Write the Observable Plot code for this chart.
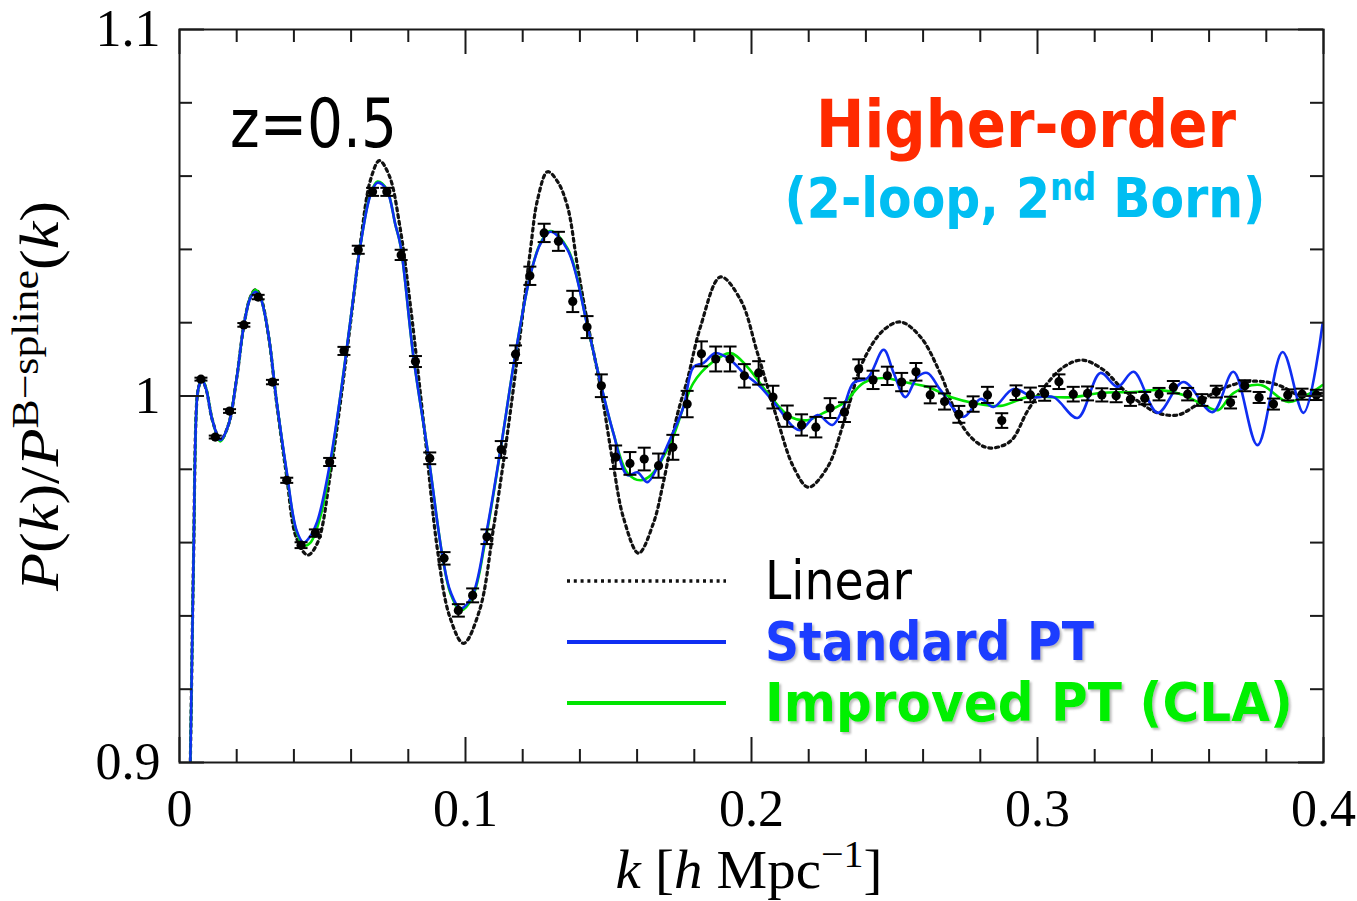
<!DOCTYPE html>
<html>
<head>
<meta charset="utf-8">
<script src="https://cdn.jsdelivr.net/npm/d3@7"></script>
<script src="https://cdn.jsdelivr.net/npm/@observablehq/plot@0.6"></script>
<style>
  html, body { margin: 0; padding: 0; background: #fff; }
  #chart svg { display: block; }
</style>
</head>
<body>
<div id="chart"></div>
<script>
// N-body measurements: P(k)/P_B-spline(k) at z = 0.5, with 1-sigma errors
const kData = [0.0075,0.0125,0.0175,0.0225,0.0275,0.0325,0.0375,0.0425,0.0475,0.0525,
  0.0575,0.0625,0.0675,0.0725,0.0775,0.0825,0.0875,0.0925,0.0975,0.1025,
  0.1075,0.1125,0.1175,0.1225,0.1275,0.1325,0.1375,0.1425,0.1475,0.1525,
  0.1575,0.1625,0.1675,0.1725,0.1775,0.1825,0.1875,0.1925,0.1975,0.2025,
  0.2075,0.2125,0.2175,0.2225,0.2275,0.2325,0.2375,0.2425,0.2475,0.2525,
  0.2575,0.2625,0.2675,0.2725,0.2775,0.2825,0.2875,0.2925,0.2975,0.3025,
  0.3075,0.3125,0.3175,0.3225,0.3275,0.3325,0.3375,0.3425,0.3475,0.3525,
  0.3575,0.3625,0.3675,0.3725,0.3775,0.3825,0.3875,0.3925,0.3975];
const pData = [1.0046,0.9888,0.9959,1.0194,1.0270,1.0038,0.9770,0.9593,0.9626,0.9820,
  1.0123,1.0399,1.0557,1.0557,1.0385,1.0094,0.9830,0.9557,0.9415,0.9456,
  0.9616,0.9854,1.0114,1.0328,1.0445,1.0422,1.0258,1.0188,1.0028,0.9833,
  0.9816,0.9828,0.9810,0.9860,0.9978,1.0115,1.0101,1.0101,1.0055,1.0063,
  0.9997,0.9945,0.9921,0.9915,0.9967,0.9956,1.0074,1.0044,1.0055,1.0038,
  1.0066,1.0003,0.9985,0.9950,0.9978,1.0003,0.9933,1.0009,1.0003,1.0007,
  1.0039,1.0005,1.0007,1.0003,1.0001,0.9991,0.9994,1.0005,1.0024,1.0005,
  0.9989,1.0012,0.9982,1.0028,0.9996,0.9978,1.0003,1.0005,1.0003];
const pErr = [0.0004,0.0004,0.0005,0.0005,0.0006,0.0006,0.0007,0.0008,0.0010,0.0011,
  0.0011,0.0011,0.0011,0.0011,0.0014,0.0015,0.0016,0.0017,0.0017,0.0019,
  0.0020,0.0023,0.0024,0.0025,0.0025,0.0026,0.0029,0.0030,0.0031,0.0032,
  0.0031,0.0031,0.0033,0.0034,0.0036,0.0034,0.0034,0.0034,0.0032,0.0032,
  0.0031,0.0029,0.0029,0.0028,0.0027,0.0027,0.0026,0.0025,0.0025,0.0025,
  0.0024,0.0023,0.0022,0.0023,0.0021,0.0022,0.0020,0.0020,0.0020,0.0020,
  0.0020,0.0020,0.0019,0.0018,0.0018,0.0018,0.0017,0.0017,0.0017,0.0017,
  0.0016,0.0016,0.0016,0.0015,0.0015,0.0015,0.0015,0.0015,0.0014];

// Linear theory
const kLinear = [0.0038,0.0042,0.0049,0.0062,0.0070,0.0079,0.0094,0.0115,0.0143,0.0171,
  0.0199,0.0227,0.0248,0.0266,0.0283,0.0311,0.0339,0.0374,0.0409,0.0448,
  0.0483,0.0528,0.0563,0.0598,0.0633,0.0668,0.0699,0.0734,0.0769,0.0808,
  0.0858,0.0902,0.0944,0.0993,0.1049,0.1098,0.1147,0.1192,0.1227,0.1252,
  0.1287,0.1322,0.1357,0.1392,0.1427,0.1472,0.1518,0.1552,0.1605,0.1657,
  0.1692,0.1741,0.1776,0.1822,0.1892,0.1962,0.2021,0.2091,0.2147,0.2199,
  0.2266,0.2322,0.2392,0.2462,0.2521,0.2591,0.2661,0.2731,0.2790,0.2836,
  0.2906,0.2965,0.3021,0.3091,0.3157,0.3231,0.3290,0.3360,0.3420,0.3490,
  0.3545,0.3615,0.3720,0.3801,0.3857,0.3913,0.3997];
const pLinear = [0.9005,0.9205,0.9552,1.0000,1.0032,1.0044,1.0016,0.9934,0.9880,0.9921,
  1.0044,1.0202,1.0270,1.0290,1.0272,1.0165,0.9985,0.9785,0.9612,0.9566,
  0.9600,0.9790,0.9985,1.0200,1.0420,1.0590,1.0642,1.0600,1.0470,1.0243,
  0.9895,0.9580,0.9400,0.9325,0.9415,0.9640,0.9900,1.0172,1.0399,1.0536,
  1.0612,1.0585,1.0516,1.0352,1.0199,1.0025,0.9806,0.9669,0.9571,0.9653,
  0.9765,0.9950,1.0045,1.0190,1.0325,1.0262,1.0117,0.9934,0.9806,0.9751,
  0.9806,0.9926,1.0098,1.0180,1.0202,1.0161,1.0060,0.9926,0.9872,0.9858,
  0.9877,0.9959,1.0022,1.0079,1.0098,1.0071,1.0025,0.9981,0.9954,0.9948,
  0.9970,1.0008,1.0038,1.0038,1.0025,1.0003,1.0008];

// Standard PT (2-loop)
const kSPT = [0.0038,0.0042,0.0049,0.0062,0.0070,0.0079,0.0094,0.0115,0.0143,0.0171,
  0.0199,0.0227,0.0248,0.0266,0.0283,0.0311,0.0339,0.0374,0.0409,0.0434,
  0.0458,0.0479,0.0493,0.0528,0.0563,0.0598,0.0633,0.0668,0.0692,0.0724,
  0.0755,0.0773,0.0818,0.0871,0.0920,0.0948,0.0983,0.1024,0.1070,0.1122,
  0.1175,0.1227,0.1262,0.1297,0.1357,0.1427,0.1472,0.1517,0.1566,0.1601,
  0.1636,0.1671,0.1717,0.1762,0.1797,0.1832,0.1874,0.1927,0.1972,0.2031,
  0.2091,0.2147,0.2171,0.2231,0.2283,0.2322,0.2357,0.2406,0.2462,0.2497,
  0.2538,0.2580,0.2615,0.2661,0.2741,0.2801,0.2846,0.2916,0.2986,0.3056,
  0.3140,0.3220,0.3280,0.3336,0.3420,0.3510,0.3612,0.3685,0.3769,0.3857,
  0.3930,0.3997];
const pSPT = [0.9005,0.9205,0.9552,1.0000,1.0032,1.0044,1.0016,0.9934,0.9880,0.9921,
  1.0044,1.0202,1.0268,1.0284,1.0268,1.0167,0.9989,0.9798,0.9634,0.9600,
  0.9618,0.9652,0.9689,0.9825,1.0003,1.0208,1.0413,1.0549,1.0582,1.0563,
  1.0467,1.0410,1.0107,0.9833,0.9560,0.9465,0.9420,0.9456,0.9615,0.9852,
  1.0117,1.0331,1.0415,1.0448,1.0399,1.0189,1.0036,0.9899,0.9784,0.9792,
  0.9765,0.9806,0.9885,0.9970,1.0079,1.0090,1.0117,1.0098,1.0063,1.0025,
  0.9970,0.9915,0.9907,0.9948,0.9921,0.9970,1.0036,1.0049,1.0126,1.0063,
  0.9997,1.0052,1.0063,1.0016,0.9943,0.9992,0.9970,1.0019,0.9997,0.9997,
  0.9940,1.0063,1.0025,1.0066,0.9954,1.0038,0.9956,1.0066,0.9866,1.0120,
  0.9954,1.0199];

// Improved PT (closure / CLA)
const kCLA = [0.0038,0.0042,0.0049,0.0062,0.0070,0.0079,0.0094,0.0115,0.0143,0.0171,
  0.0199,0.0227,0.0248,0.0266,0.0283,0.0311,0.0339,0.0374,0.0409,0.0434,
  0.0458,0.0493,0.0528,0.0563,0.0598,0.0633,0.0668,0.0692,0.0724,0.0755,
  0.0773,0.0818,0.0871,0.0920,0.0948,0.0983,0.1024,0.1070,0.1122,0.1175,
  0.1227,0.1262,0.1297,0.1357,0.1427,0.1472,0.1517,0.1566,0.1612,0.1650,
  0.1717,0.1797,0.1860,0.1927,0.1986,0.2056,0.2136,0.2196,0.2252,0.2322,
  0.2392,0.2462,0.2531,0.2615,0.2696,0.2776,0.2871,0.2965,0.3045,0.3126,
  0.3220,0.3336,0.3430,0.3510,0.3594,0.3633,0.3685,0.3780,0.3877,0.3997];
const pCLA = [0.9005,0.9205,0.9552,1.0000,1.0032,1.0046,1.0018,0.9934,0.9876,0.9921,
  1.0044,1.0202,1.0270,1.0290,1.0270,1.0167,0.9989,0.9795,0.9630,0.9592,
  0.9600,0.9672,0.9815,1.0003,1.0208,1.0413,1.0552,1.0585,1.0565,1.0467,
  1.0410,1.0107,0.9833,0.9560,0.9460,0.9415,0.9450,0.9608,0.9850,1.0117,
  1.0331,1.0417,1.0450,1.0402,1.0189,1.0036,0.9899,0.9790,0.9770,0.9785,
  0.9872,1.0036,1.0090,1.0117,1.0079,1.0008,0.9943,0.9934,0.9954,0.9981,
  1.0036,1.0049,1.0038,1.0025,0.9997,0.9981,0.9973,0.9997,0.9997,0.9997,
  1.0008,1.0011,1.0016,1.0003,0.9970,0.9962,1.0008,1.0030,0.9984,1.0030];

// Axis ticks and their labels
const xMajorTicks = [0, 0.1, 0.2, 0.3, 0.4];
const xTickLabels = ["0", "0.1", "0.2", "0.3", "0.4"];
const xMinorTicks = [0.02,0.04,0.06,0.08,0.12,0.14,0.16,0.18,0.22,0.24,0.26,0.28,0.32,0.34,0.36,0.38];
const yMajorTicks = [0.9, 1.0, 1.1];
const yTickLabels = ["0.9", "1", "1.1"];
const yMinorTicks = [0.92,0.94,0.96,0.98,1.02,1.04,1.06,1.08];

const points = kData.map((k, i) => ({k, p: pData[i], lo: pData[i] - pErr[i], hi: pData[i] + pErr[i]}));
const rows = (ks, ps) => ks.map((k, i) => ({k, p: ps[i]}));

// layout
const W = 1357, H = 901;
const mL = 179, mR = 34, mT = 29, mB = 139;
const frameW = W - mL - mR, frameH = H - mT - mB;
const minorLen = 13, majorLen = 25;

const BLUE = "#0f2ef2", GREEN = "#00e400";
const DOTS = "3,3.8";

// horizontal cap for the error bars
const capSymbol = {
  draw(ctx, size) {
    const r = Math.sqrt(size / Math.PI);
    ctx.moveTo(-r, 0);
    ctx.lineTo(r, 0);
  }
};

const tickStyle = {stroke: "#1a1a1a", strokeWidth: 2};

const chart = Plot.plot({
  width: W, height: H,
  marginLeft: mL, marginRight: mR, marginTop: mT, marginBottom: mB,
  style: {background: "#fff", fontFamily: "Liberation Serif", color: "#000"},
  x: {domain: [0, 0.4]},
  y: {domain: [0.9, 1.1]},
  marks: [
    Plot.line(rows(kLinear, pLinear), {x: "k", y: "p", stroke: "#111", strokeWidth: 3.2,
      strokeDasharray: DOTS, curve: "catmull-rom", clip: true}),
    Plot.line(rows(kCLA, pCLA), {x: "k", y: "p", stroke: GREEN, strokeWidth: 2.6, curve: "catmull-rom", clip: true}),
    Plot.line(rows(kSPT, pSPT), {x: "k", y: "p", stroke: BLUE, strokeWidth: 2.6, curve: "catmull-rom", clip: true}),
    Plot.ruleX(points, {x: "k", y1: "lo", y2: "hi", stroke: "#000", strokeWidth: 2}),
    Plot.dot(points, {x: "k", y: "hi", symbol: capSymbol, r: 6.5, stroke: "#000", strokeWidth: 2, fill: "none"}),
    Plot.dot(points, {x: "k", y: "lo", symbol: capSymbol, r: 6.5, stroke: "#000", strokeWidth: 2, fill: "none"}),
    Plot.dot(points, {x: "k", y: "p", r: 4.6, fill: "#000", stroke: "none"}),
    // inward ticks on all four sides
    Plot.ruleX(xMinorTicks, {...tickStyle, insetTop: frameH - minorLen}),
    Plot.ruleX(xMinorTicks, {...tickStyle, insetBottom: frameH - minorLen}),
    Plot.ruleX(xMajorTicks, {...tickStyle, insetTop: frameH - majorLen}),
    Plot.ruleX(xMajorTicks, {...tickStyle, insetBottom: frameH - majorLen}),
    Plot.ruleY(yMinorTicks, {...tickStyle, insetRight: frameW - minorLen}),
    Plot.ruleY(yMinorTicks, {...tickStyle, insetLeft: frameW - minorLen}),
    Plot.ruleY(yMajorTicks, {...tickStyle, insetRight: frameW - majorLen}),
    Plot.ruleY(yMajorTicks, {...tickStyle, insetLeft: frameW - majorLen}),
    Plot.axisX({ticks: xMajorTicks, tickSize: 0, tickPadding: 27, fontSize: 52, label: null,
      tickFormat: d => xTickLabels[xMajorTicks.indexOf(d)]}),
    Plot.axisY({ticks: yMajorTicks, tickSize: 0, tickPadding: 19, fontSize: 52, label: null,
      tickFormat: d => yTickLabels[yMajorTicks.indexOf(d)]}),
    Plot.frame({stroke: "#1a1a1a", strokeWidth: 2})
  ]
});

document.getElementById("chart").appendChild(chart);

// ---- text with mixed styles (axis titles, annotations, legend) ----
const svg = d3.select(chart);

const defs = svg.append("defs");
defs.append("filter").attr("id", "softShadow").attr("x", "-5%").attr("y", "-10%")
  .attr("width", "115%").attr("height", "130%")
  .append("feDropShadow").attr("dx", 2).attr("dy", 2).attr("stdDeviation", 1)
  .attr("flood-color", "#777").attr("flood-opacity", 0.5);

function richText(attrs, parts) {
  const t = svg.append("text").attr("text-anchor", "start");
  for (const [key, v] of Object.entries(attrs)) t.attr(key, v);
  for (const p of parts) {
    const s = t.append("tspan").text(p.text);
    if (p.italic) s.attr("font-style", "italic");
    if (p.size) s.attr("font-size", p.size);
    if (p.dy) s.attr("dy", p.dy);
  }
  return t;
}

// y-axis title
richText({transform: "translate(58,396) rotate(-90)", "text-anchor": "middle",
  "font-family": "Liberation Serif", "font-size": 54, fill: "#000",
  textLength: 390, lengthAdjust: "spacingAndGlyphs"}, [
  {text: "P", italic: true}, {text: "("}, {text: "k", italic: true}, {text: ")/"},
  {text: "P", italic: true}, {text: "B−spline", size: 38, dy: -20},
  {text: "(", dy: 20}, {text: "k", italic: true}, {text: ")"}
]);

// x-axis title
richText({x: 749, y: 888, "text-anchor": "middle",
  "font-family": "Liberation Serif", "font-size": 54, fill: "#000",
  textLength: 267, lengthAdjust: "spacingAndGlyphs"}, [
  {text: "k", italic: true}, {text: " ["}, {text: "h", italic: true}, {text: " Mpc"},
  {text: "−1", size: 38, dy: -21}, {text: "]", dy: 21}
]);

// redshift tag
richText({x: 230, y: 147, "font-family": "DejaVu Sans", "font-size": 68, fill: "#000",
  textLength: 167, lengthAdjust: "spacingAndGlyphs"}, [{text: "z=0.5"}]);

// model description
richText({x: 1026, y: 147, "text-anchor": "middle", "font-family": "DejaVu Sans",
  "font-weight": "bold", "font-size": 66, fill: "#ff2a00",
  textLength: 420, lengthAdjust: "spacingAndGlyphs"}, [{text: "Higher-order"}]);
richText({x: 1025, y: 217, "text-anchor": "middle", "font-family": "DejaVu Sans",
  "font-weight": "bold", "font-size": 56, fill: "#00bef2",
  textLength: 481, lengthAdjust: "spacingAndGlyphs"}, [
  {text: "(2-loop, 2"}, {text: "nd", size: 37, dy: -17}, {text: " Born)", dy: 17}
]);

// legend
const legend = svg.append("g");
const swatchX1 = 567, swatchX2 = 726, textX = 765;
const legendRows = [
  {label: "Linear", y: 581, stroke: "#111", dash: DOTS, width: 3.4, fill: "#000", weight: "normal", len: 147, shadow: false},
  {label: "Standard PT", y: 642, stroke: BLUE, dash: null, width: 4, fill: "#1a3cff", weight: "bold", len: 329, shadow: true},
  {label: "Improved PT (CLA)", y: 703, stroke: GREEN, dash: null, width: 4, fill: "#00f000", weight: "bold", len: 528, shadow: true}
];
for (const r of legendRows) {
  const ln = legend.append("line").attr("x1", swatchX1).attr("x2", swatchX2)
    .attr("y1", r.y).attr("y2", r.y).attr("stroke", r.stroke).attr("stroke-width", r.width);
  if (r.dash) ln.attr("stroke-dasharray", r.dash);
  const t = legend.append("text").attr("text-anchor", "start")
    .attr("x", textX).attr("y", r.y + 18)
    .attr("font-family", "DejaVu Sans").attr("font-size", 54).attr("font-weight", r.weight)
    .attr("fill", r.fill).attr("textLength", r.len).attr("lengthAdjust", "spacingAndGlyphs")
    .text(r.label);
  if (r.shadow) t.attr("filter", "url(#softShadow)");
}
</script>
</body>
</html>
